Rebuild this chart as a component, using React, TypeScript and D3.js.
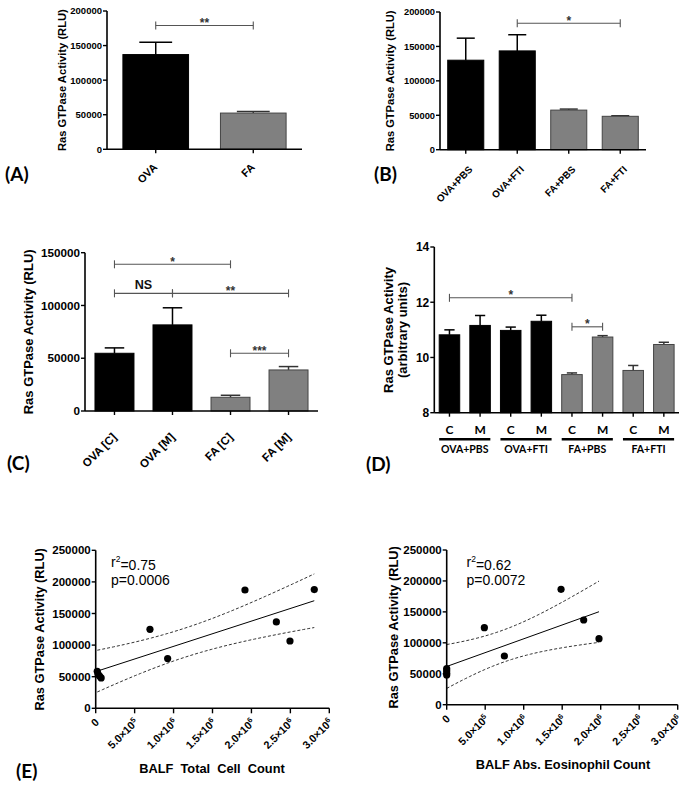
import React from "react";
import * as d3 from "d3";

const ARIAL = "'Liberation Sans', Arial, Helvetica, sans-serif";
const CAL = "Lato, 'Open Sans', sans-serif";
const BLACK = "#000000";
const GRAY = "#808080";
const INK = "#333333";

// ---------- Panel A ----------
const aCategories = ["OVA", "FA"];
const aMeans = [137000, 52400];
const aSem = [17800, 2400];
const aTicks = [0, 50000, 100000, 150000, 200000];
const aBrackets = [{ from: 0, to: 1, level: 179000, label: "**" }];

// ---------- Panel B ----------
const bCategories = ["OVA+PBS", "OVA+FTI", "FA+PBS", "FA+FTI"];
const bMeans = [130000, 143500, 57500, 48500];
const bSem = [32000, 23500, 1500, 800];
const bTicks = [0, 50000, 100000, 150000, 200000];
const bBrackets = [{ from: 1, to: 3, level: 183600, label: "*" }];

// ---------- Panel C ----------
const cCategories = ["OVA [C]", "OVA [M]", "FA [C]", "FA [M]"];
const cMeans = [54700, 81600, 13000, 38900];
const cSem = [5100, 16200, 1900, 3200];
const cTicks = [0, 50000, 100000, 150000];
const cBrackets = [
  { from: 0, to: 2, level: 139000, label: "*" },
  { from: 0, to: 1, level: 111500, label: "NS" },
  { from: 1, to: 3, level: 111500, label: "**" },
  { from: 2, to: 3, level: 54700, label: "***" },
];

// ---------- Panel D ----------
const dGroups = ["OVA+PBS", "OVA+FTI", "FA+PBS", "FA+FTI"];
const dSub = ["C", "M"];
const dMeans = [10.82, 11.16, 10.98, 11.31, 9.38, 10.74, 9.53, 10.47];
const dSem = [0.18, 0.36, 0.12, 0.22, 0.06, 0.05, 0.18, 0.08];
const dTicks = [8, 10, 12, 14];
const dBrackets = [
  { from: 0, to: 4, level: 12.16, label: "*" },
  { from: 4, to: 5, level: 11.11, label: "*" },
];

// ---------- Panel E ----------
const eTotalCells = [20000, 30000, 50000, 70000, 697000, 924000, 1917000, 2320000, 2495000, 2807000];
const eRasTotal = [58500, 54000, 51000, 48000, 125000, 78600, 187200, 136600, 106500, 187800];
const eEosCells = [0, 0, 0, 0, 489000, 749000, 1485000, 1779000, 1978000];
const eRasEos = [58500, 55000, 51000, 48000, 124500, 78700, 186400, 136900, 106700];
const eYTicks = [0, 50000, 100000, 150000, 200000, 250000];
const eXTicks = [0, 500000, 1000000, 1500000, 2000000, 2500000, 3000000];
const eXTickMantissa = ["0", "5.0", "1.0", "1.5", "2.0", "2.5", "3.0"];
const eXTickExp = ["", "5", "6", "6", "6", "6", "6"];
const eStatsLeft = ["0.75", "0.0006"];
const eStatsRight = ["0.62", "0.0072"];

type Frame = { x0: number; x1: number; yTop: number; yBot: number };
type Bracket = { from: number; to: number; level: number; label: string };

function YAxis({ frame, y, ticks, font }: { frame: Frame; y: any; ticks: number[]; font: number }) {
  return (
    <g>
      <line x1={frame.x0} x2={frame.x0} y1={frame.yTop} y2={frame.yBot} stroke={BLACK} strokeWidth={1.6} />
      {ticks.map((t) => (
        <g key={t}>
          <line x1={frame.x0 - 4} x2={frame.x0} y1={y(t)} y2={y(t)} stroke={BLACK} strokeWidth={1.4} />
          <text x={frame.x0 - 5} y={y(t)} dy="0.36em" textAnchor="end" fontFamily={ARIAL} fontWeight="bold" fontSize={font}>
            {t}
          </text>
        </g>
      ))}
    </g>
  );
}

function Brackets({ brackets, cx, y, font }: { brackets: Bracket[]; cx: (i: number) => number; y: any; font: number }) {
  return (
    <g>
      {brackets.map((b, i) => {
        const x1 = cx(b.from);
        const x2 = cx(b.to);
        const yy = y(b.level);
        const stars = b.label.includes("*");
        return (
          <g key={i}>
            <line x1={x1} x2={x2} y1={yy} y2={yy} stroke="#555" strokeWidth={1.1} />
            <line x1={x1} x2={x1} y1={yy - 4} y2={yy + 4} stroke="#555" strokeWidth={1.1} />
            <line x1={x2} x2={x2} y1={yy - 4} y2={yy + 4} stroke="#555" strokeWidth={1.1} />
            <text
              x={(x1 + x2) / 2}
              y={stars ? yy + font * 0.12 : yy - 4}
              textAnchor="middle"
              fontFamily={ARIAL}
              fontWeight="bold"
              fontSize={stars ? font : font * 1.05}
              fill={stars ? INK : "#111"}
            >
              {b.label}
            </text>
          </g>
        );
      })}
    </g>
  );
}

function BarPanel(props: {
  cats: string[];
  means: number[];
  sems: number[];
  frame: Frame;
  domain: [number, number];
  ticks: number[];
  tickFont: number;
  title: string;
  titleFont: number;
  titleX: number;
  labelFont: number;
  labelDx: number;
  labelDy: number;
  pi: number;
  po: number;
  brackets: Bracket[];
  starFont: number;
}) {
  const { cats, means, sems, frame, domain, ticks } = props;
  const x = d3.scaleBand<string>().domain(cats).range([frame.x0, frame.x1]).paddingInner(props.pi).paddingOuter(props.po);
  const y = d3.scaleLinear().domain(domain).range([frame.yBot, frame.yTop]);
  const bw = x.bandwidth();
  const cx = (i: number) => (x(cats[i]) as number) + bw / 2;
  return (
    <g>
      {cats.map((c, i) => {
        const isOva = c.startsWith("OVA");
        const left = x(c) as number;
        const top = y(means[i]);
        const errTop = y(means[i] + sems[i]);
        const col = isOva ? BLACK : GRAY;
        return (
          <g key={c}>
            <line x1={left + bw / 2} x2={left + bw / 2} y1={top} y2={errTop} stroke={isOva ? BLACK : INK} strokeWidth={1.5} />
            <line x1={left + bw / 4} x2={left + (3 * bw) / 4} y1={errTop} y2={errTop} stroke={isOva ? BLACK : INK} strokeWidth={1.5} />
            <rect x={left} y={top} width={bw} height={frame.yBot - top} fill={col} stroke={isOva ? BLACK : "#444"} strokeWidth={1} />
          </g>
        );
      })}
      <YAxis frame={frame} y={y} ticks={ticks} font={props.tickFont} />
      <line x1={frame.x0} x2={frame.x1} y1={frame.yBot} y2={frame.yBot} stroke={BLACK} strokeWidth={1.6} />
      {cats.map((c, i) => (
        <g key={"t" + c}>
          <line x1={cx(i)} x2={cx(i)} y1={frame.yBot} y2={frame.yBot + 4} stroke={BLACK} strokeWidth={1.4} />
          <text
            transform={`translate(${cx(i) + props.labelDx},${frame.yBot + props.labelDy}) rotate(-45)`}
            textAnchor="end"
            dy="0.35em"
            fontFamily={ARIAL}
            fontWeight="bold"
            fontSize={props.labelFont}
          >
            {c}
          </text>
        </g>
      ))}
      <Brackets brackets={props.brackets} cx={cx} y={y} font={props.starFont} />
      <text
        transform={`translate(${props.titleX},${(frame.yTop + frame.yBot) / 2}) rotate(-90)`}
        textAnchor="middle"
        dy="0.35em"
        fontFamily={ARIAL}
        fontWeight="bold"
        fontSize={props.titleFont}
      >
        {props.title}
      </text>
    </g>
  );
}

function PanelD() {
  const frame: Frame = { x0: 434.3, x1: 679, yTop: 247, yBot: 412.7 };
  const keys = dGroups.flatMap((g) => dSub.map((s) => g + "|" + s));
  const x = d3.scaleBand<string>().domain(keys).range([frame.x0, frame.x1]).paddingInner(0.33).paddingOuter(0.16);
  const y = d3.scaleLinear().domain([8, 14]).range([frame.yBot, frame.yTop]);
  const bw = x.bandwidth();
  const cx = (i: number) => (x(keys[i]) as number) + bw / 2;
  return (
    <g>
      {keys.map((k, i) => {
        const isOva = k.startsWith("OVA");
        const left = x(k) as number;
        const top = y(dMeans[i]);
        const errTop = y(dMeans[i] + dSem[i]);
        return (
          <g key={k}>
            <line x1={left + bw / 2} x2={left + bw / 2} y1={top} y2={errTop} stroke={isOva ? BLACK : INK} strokeWidth={1.5} />
            <line x1={left + bw / 4} x2={left + (3 * bw) / 4} y1={errTop} y2={errTop} stroke={isOva ? BLACK : INK} strokeWidth={1.5} />
            <rect x={left} y={top} width={bw} height={frame.yBot - top} fill={isOva ? BLACK : GRAY} stroke={isOva ? BLACK : "#444"} strokeWidth={1} />
          </g>
        );
      })}
      <YAxis frame={frame} y={y} ticks={dTicks} font={12} />
      <line x1={frame.x0} x2={frame.x1} y1={frame.yBot} y2={frame.yBot} stroke={BLACK} strokeWidth={1.6} />
      {keys.map((k, i) => (
        <g key={"t" + k}>
          <line x1={cx(i)} x2={cx(i)} y1={frame.yBot} y2={frame.yBot + 4} stroke={BLACK} strokeWidth={1.4} />
          <text x={cx(i)} y={frame.yBot + 17.5} dy="0.35em" textAnchor="middle" fontFamily={CAL} fontWeight="bold" fontSize={12}>
            {k.split("|")[1]}
          </text>
        </g>
      ))}
      {dGroups.map((g, gi) => {
        const l = x(keys[gi * 2]) as number;
        const r = (x(keys[gi * 2 + 1]) as number) + bw;
        return (
          <g key={g}>
            <line x1={l} x2={r} y1={frame.yBot + 26.5} y2={frame.yBot + 26.5} stroke={BLACK} strokeWidth={2.6} />
            <text x={(l + r) / 2} y={frame.yBot + 36.5} dy="0.35em" textAnchor="middle" fontFamily={CAL} fontWeight="bold" fontSize={10.5}>
              {g}
            </text>
          </g>
        );
      })}
      <Brackets brackets={dBrackets} cx={cx} y={y} font={12} />
      <text transform={`translate(388,330) rotate(-90)`} textAnchor="middle" dy="0.35em" fontFamily={ARIAL} fontWeight="bold" fontSize={13}>
        Ras GTPase Activity
      </text>
      <text transform={`translate(402,330) rotate(-90)`} textAnchor="middle" dy="0.35em" fontFamily={ARIAL} fontWeight="bold" fontSize={13}>
        (arbitrary units)
      </text>
    </g>
  );
}

function regression(xs: number[], ys: number[]) {
  const n = xs.length;
  const mx = d3.mean(xs) as number;
  const my = d3.mean(ys) as number;
  let sxx = 0, sxy = 0, syy = 0;
  for (let i = 0; i < n; i++) {
    sxx += (xs[i] - mx) ** 2;
    sxy += (xs[i] - mx) * (ys[i] - my);
    syy += (ys[i] - my) ** 2;
  }
  const slope = sxy / sxx;
  const icpt = my - slope * mx;
  const s = Math.sqrt((syy - slope * sxy) / (n - 2));
  const tTable: Record<number, number> = { 7: 2.365, 8: 2.306 };
  const t = tTable[n - 2] ?? 2.3;
  const half = (xv: number) => t * s * Math.sqrt(1 / n + (xv - mx) ** 2 / sxx);
  return { slope, icpt, half };
}

function ScatterPanel(props: {
  xs: number[];
  ys: number[];
  frame: Frame;
  titleX: number;
  xTitle: string;
  xTitleX: number;
  xTitleY: number;
  stats: string[];
  statsX: number;
}) {
  const { xs, ys, frame } = props;
  const x = d3.scaleLinear().domain([0, 3000000]).range([frame.x0, frame.x1]);
  const y = d3.scaleLinear().domain([0, 250000]).range([frame.yBot, frame.yTop]);
  const reg = regression(xs, ys);
  const xmin = d3.min(xs) as number;
  const xmax = d3.max(xs) as number;
  const samples = d3.range(0, 41).map((i) => xmin + ((xmax - xmin) * i) / 40);
  const fit = (v: number) => reg.icpt + reg.slope * v;
  const upper = d3.line<number>().x((v) => x(v)).y((v) => y(fit(v) + reg.half(v)));
  const lower = d3.line<number>().x((v) => x(v)).y((v) => y(fit(v) - reg.half(v)));
  return (
    <g>
      <path d={upper(samples) as string} fill="none" stroke="#333" strokeWidth={1} strokeDasharray="3,2" />
      <path d={lower(samples) as string} fill="none" stroke="#333" strokeWidth={1} strokeDasharray="3,2" />
      <line x1={x(xmin)} x2={x(xmax)} y1={y(fit(xmin))} y2={y(fit(xmax))} stroke={BLACK} strokeWidth={1} />
      {xs.map((v, i) => (
        <circle key={i} cx={x(v)} cy={y(ys[i])} r={3.6} fill={BLACK} />
      ))}
      <YAxis frame={frame} y={y} ticks={eYTicks} font={11.5} />
      <line x1={frame.x0} x2={frame.x1} y1={frame.yBot} y2={frame.yBot} stroke={BLACK} strokeWidth={1.6} />
      {eXTicks.map((t, i) => (
        <g key={t}>
          <line x1={x(t)} x2={x(t)} y1={frame.yBot} y2={frame.yBot + 5} stroke={BLACK} strokeWidth={1.4} />
          <text
            transform={`translate(${x(t) + 1.5},${frame.yBot + 12}) rotate(-45)`}
            textAnchor="end"
            dy="0.35em"
            fontFamily={ARIAL}
            fontWeight="bold"
            fontSize={10.8}
          >
            {eXTickMantissa[i]}
            {eXTickExp[i] ? (
              <>
                <tspan>×10</tspan>
                <tspan fontSize={7.5} dy="-0.5em">{eXTickExp[i]}</tspan>
              </>
            ) : null}
          </text>
        </g>
      ))}
      <text
        transform={`translate(${props.titleX},${(frame.yTop + frame.yBot) / 2}) rotate(-90)`}
        textAnchor="middle"
        dy="0.35em"
        fontFamily={ARIAL}
        fontWeight="bold"
        fontSize={12.8}
      >
        Ras GTPase Activity (RLU)
      </text>
      <text x={props.xTitleX} y={props.xTitleY} dy="0.35em" textAnchor="middle" fontFamily={ARIAL} fontWeight="bold" fontSize={12.8} style={{ whiteSpace: "pre" }}>
        {props.xTitle}
      </text>
      <text x={props.statsX} y={567} fontFamily={ARIAL} fontSize={14}>
        r<tspan fontSize={8.5} dy="-0.6em">2</tspan>
        <tspan dy="0.6em" fontSize={14}>={props.stats[0]}</tspan>
      </text>
      <text x={props.statsX} y={585} fontFamily={ARIAL} fontSize={14}>
        p={props.stats[1]}
      </text>
    </g>
  );
}

function PanelLabel({ x, y, text }: { x: number; y: number; text: string }) {
  return (
    <text x={x} y={y} fontFamily={CAL} fontWeight="bold" fontSize={19}>
      {text}
    </text>
  );
}

export default function App() {
  return (
    <svg width={691} height={787} style={{ position: "absolute", left: 0, top: 0, background: "#fff" }}>
      <rect width={691} height={787} fill="#fff" />
      <BarPanel
        cats={aCategories}
        means={aMeans}
        sems={aSem}
        frame={{ x0: 107, x1: 302, yTop: 11, yBot: 149.3 }}
        domain={[0, 200000]}
        ticks={aTicks}
        tickFont={9.5}
        title="Ras GTPase Activity (RLU)"
        titleFont={11.2}
        titleX={62}
        labelFont={10.8}
        labelDx={-0.5}
        labelDy={16}
        pi={0.327}
        po={0.163}
        brackets={aBrackets}
        starFont={12}
      />
      <BarPanel
        cats={bCategories}
        means={bMeans}
        sems={bSem}
        frame={{ x0: 440, x1: 646, yTop: 12, yBot: 149.7 }}
        domain={[0, 200000]}
        ticks={bTicks}
        tickFont={9.3}
        title="Ras GTPase Activity (RLU)"
        titleFont={11.1}
        titleX={390}
        labelFont={9.8}
        labelDx={5}
        labelDy={18}
        pi={0.3}
        po={0.15}
        brackets={bBrackets}
        starFont={12}
      />
      <BarPanel
        cats={cCategories}
        means={cMeans}
        sems={cSem}
        frame={{ x0: 85, x1: 318, yTop: 252.7, yBot: 411 }}
        domain={[0, 150000]}
        ticks={cTicks}
        tickFont={11.7}
        title="Ras GTPase Activity (RLU)"
        titleFont={13}
        titleX={28.3}
        labelFont={11.5}
        labelDx={0}
        labelDy={24}
        pi={0.328}
        po={0.172}
        brackets={cBrackets}
        starFont={12}
      />
      <PanelD />
      <ScatterPanel
        xs={eTotalCells}
        ys={eRasTotal}
        frame={{ x0: 95.7, x1: 329.3, yTop: 550.3, yBot: 708.3 }}
        titleX={40}
        xTitle="BALF  Total  Cell  Count"
        xTitleX={212}
        xTitleY={769}
        stats={eStatsLeft}
        statsX={111}
      />
      <ScatterPanel
        xs={eEosCells}
        ys={eRasEos}
        frame={{ x0: 446.7, x1: 677.7, yTop: 550, yBot: 704.7 }}
        titleX={393.3}
        xTitle="BALF Abs. Eosinophil Count"
        xTitleX={563}
        xTitleY={765}
        stats={eStatsRight}
        statsX={466.5}
      />
      <PanelLabel x={5} y={181} text="(A)" />
      <PanelLabel x={374} y={181} text="(B)" />
      <PanelLabel x={7} y={470} text="(C)" />
      <PanelLabel x={366} y={471} text="(D)" />
      <PanelLabel x={16} y={778} text="(E)" />
    </svg>
  );
}
